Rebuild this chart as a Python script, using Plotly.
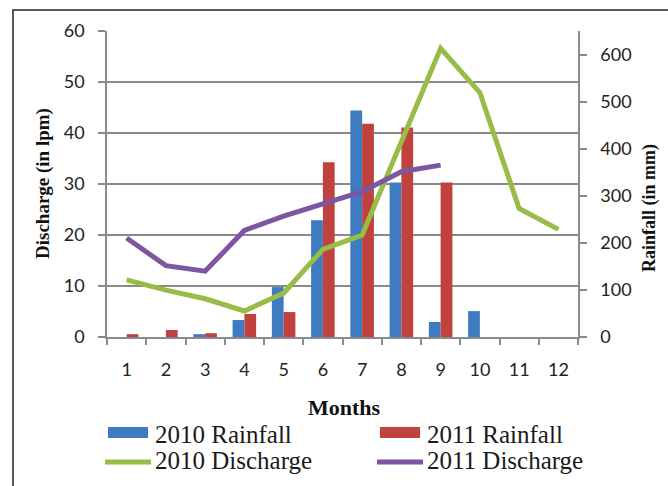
import plotly.graph_objects as go

# Monthly data
months = ["1", "2", "3", "4", "5", "6", "7", "8", "9", "10", "11", "12"]
rain_2010 = [0, 0, 6, 36, 106, 248, 481, 328, 32, 55, 0, 0]          # mm
rain_2011 = [6, 15, 8, 49, 53, 371, 453, 445, 328, 0, 0, 0]          # mm
discharge_2010 = [11.2, 9.2, 7.5, 5.1, 8.6, 17.2, 20.0, 38.5, 56.6, 47.9, 25.2, 21.1]  # lpm
discharge_2011 = [19.4, 14.0, 12.9, 20.9, 23.7, 26.2, 28.5, 32.4, 33.7, None, None, None]

series_names = ["2010 Rainfall", "2011 Rainfall", "2010 Discharge", "2011 Discharge"]
colors = {
    "2010 Rainfall": "#3F7BC0",
    "2011 Rainfall": "#C0423F",
    "2010 Discharge": "#97BC48",
    "2011 Discharge": "#7B57A2",
}

W, H = 668, 486
L, R, T, B = 107, 90, 31, 149
PW, PH = W - L - R, H - T - B


def px(x):
    return (x - L) / PW


def py(y):
    return (H - B - y) / PH


axis_gray = "#8A8A8A"
tick_font = dict(family="Lato", size=18, color="#222222")
serif = "Liberation Serif"

fig = go.Figure()

# Rainfall bars on the right-hand scale
fig.add_trace(go.Bar(x=months, y=rain_2010, name=series_names[0],
                     marker=dict(color=colors["2010 Rainfall"], line_width=0), yaxis="y"))
fig.add_trace(go.Bar(x=months, y=rain_2011, name=series_names[1],
                     marker=dict(color=colors["2011 Rainfall"], line_width=0), yaxis="y"))

# Discharge lines on the left-hand scale
fig.add_trace(go.Scatter(x=months, y=discharge_2010, name=series_names[2], mode="lines",
                         line=dict(color=colors["2010 Discharge"], width=5), yaxis="y2"))
fig.add_trace(go.Scatter(x=months, y=discharge_2011, name=series_names[3], mode="lines",
                         line=dict(color=colors["2011 Discharge"], width=5), yaxis="y2"))

fig.update_layout(
    width=W, height=H,
    margin=dict(l=L, r=R, t=T, b=B, pad=0),
    paper_bgcolor="white", plot_bgcolor="white",
    showlegend=False,
    barmode="group", bargap=0.4, bargroupgap=0,
    xaxis=dict(
        type="category", tickson="boundaries",
        showline=True, linecolor=axis_gray, linewidth=1.5,
        ticks="outside", ticklen=6, tickcolor=axis_gray, tickwidth=1.5,
        showgrid=False, tickfont=tick_font, ticklabelstandoff=16,
    ),
    yaxis=dict(
        side="right", range=[0, 650], tickvals=[0, 100, 200, 300, 400, 500, 600],
        showline=True, linecolor=axis_gray, linewidth=1.5,
        ticks="outside", ticklen=7, tickcolor=axis_gray, tickwidth=1.5,
        showgrid=False, zeroline=False, tickfont=tick_font, ticklabelstandoff=10,
    ),
    yaxis2=dict(
        side="left", overlaying="y", range=[0, 60], dtick=10,
        showline=True, linecolor=axis_gray, linewidth=1.5,
        ticks="outside", ticklen=7, tickcolor=axis_gray, tickwidth=1.5,
        showgrid=True, gridcolor=axis_gray, gridwidth=1.5,
        zeroline=False, tickfont=tick_font, ticklabelstandoff=10,
    ),
)

# Frame around the chart
fig.add_shape(type="rect", xref="paper", yref="paper",
              x0=px(13), x1=px(W + 20), y0=py(10), y1=py(H + 20),
              line=dict(color="#222222", width=1.5), layer="above")

# Axis titles
title_font = dict(family=serif, size=19, color="#111111")
fig.add_annotation(text="<b>Discharge (in lpm)</b>", xref="paper", yref="paper",
                   x=px(43), y=py(184), textangle=-90, showarrow=False,
                   xanchor="center", yanchor="middle", font=title_font)
fig.add_annotation(text="<b>Rainfall (in mm)</b>", xref="paper", yref="paper",
                   x=px(650), y=py(208), textangle=-90, showarrow=False,
                   xanchor="center", yanchor="middle", font=dict(family=serif, size=18, color="#111111"))
fig.add_annotation(text="<b>Months</b>", xref="paper", yref="paper",
                   x=px(344), y=py(407), showarrow=False,
                   xanchor="center", yanchor="middle", font=dict(family=serif, size=22, color="#111111"))

# Legend: two columns, two rows
legend_items = [
    (series_names[0], "bar", 108, 435),
    (series_names[1], "bar", 380, 435),
    (series_names[2], "line", 105, 462),
    (series_names[3], "line", 377, 462),
]
legend_font = dict(family=serif, size=25, color="#1A1A1A")
for name, kind, x0, yc in legend_items:
    if kind == "bar":
        fig.add_shape(type="rect", xref="paper", yref="paper",
                      x0=px(x0), x1=px(x0 + 40), y0=py(yc - 8), y1=py(yc + 3),
                      fillcolor=colors[name], line_width=0)
        tx = x0 + 45
    else:
        fig.add_shape(type="line", xref="paper", yref="paper",
                      x0=px(x0), x1=px(x0 + 46), y0=py(yc), y1=py(yc),
                      line=dict(color=colors[name], width=5))
        tx = x0 + 48
    fig.add_annotation(text=name, xref="paper", yref="paper", x=px(tx), y=py(yc - 1),
                       showarrow=False, xanchor="left", yanchor="middle", font=legend_font)

fig.write_html("out.html")
